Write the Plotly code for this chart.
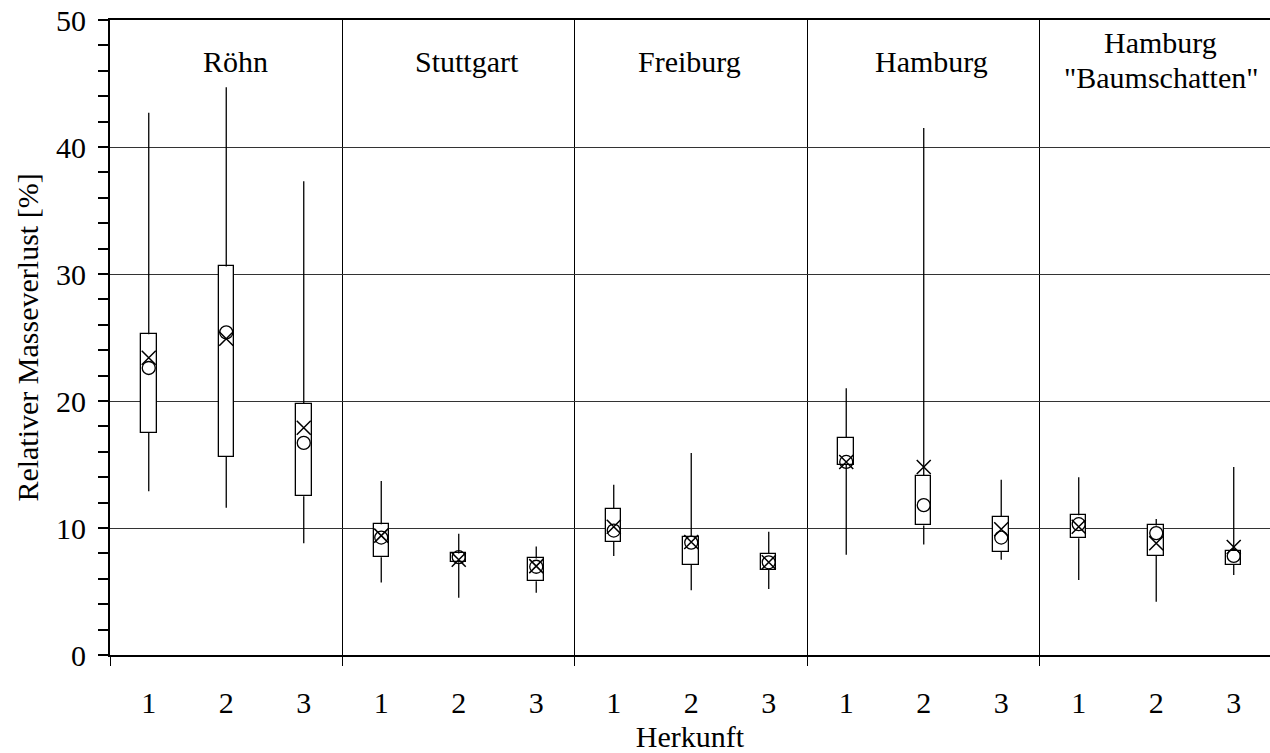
import plotly.graph_objects as go

# Sites (one group of three origins each) and origin labels on the x axis
standorte = ["Röhn", "Stuttgart", "Freiburg", "Hamburg", "Hamburg<br>\"Baumschatten\""]
herkunft = ["1", "2", "3"] * 5

# Relative mass loss [%] per site/origin
minimum = [12.9, 11.6, 8.8, 5.7, 4.5, 4.9, 7.8, 5.1, 5.2, 7.9, 8.7, 7.5, 5.9, 4.2, 6.3]
q1 = [17.5, 15.6, 12.5, 7.7, 7.3, 5.8, 8.9, 7.1, 6.7, 15.0, 10.2, 8.15, 9.2, 7.8, 7.1]
q3 = [25.25, 30.6, 19.8, 10.3, 8.0, 7.6, 11.5, 9.3, 7.95, 17.1, 14.1, 10.9, 11.0, 10.2, 8.2]
maximum = [42.7, 44.7, 37.3, 13.7, 9.55, 8.55, 13.4, 15.9, 9.7, 21.0, 41.5, 13.8, 14.0, 10.7, 14.8]
median = [22.6, 25.4, 16.7, 9.25, 7.7, 6.95, 9.8, 8.85, 7.3, 15.2, 11.8, 9.25, 10.3, 9.6, 7.8]
mittelwert = [23.4, 24.9, 17.9, 9.4, 7.5, 7.0, 10.1, 8.9, 7.3, 15.2, 14.8, 9.9, 10.1, 8.8, 8.5]

pos = list(range(len(herkunft)))
FONT = "Times New Roman, Liberation Serif, serif"
FS = 30

# whiskers: box top -> maximum and minimum -> box bottom
wx, wy = [], []
for i in pos:
    wx += [i, i, None, i, i, None]
    wy += [q3[i], maximum[i], None, minimum[i], q1[i], None]

fig = go.Figure()
fig.add_trace(go.Scatter(x=wx, y=wy, mode="lines",
                         line=dict(color="black", width=1.3),
                         hoverinfo="skip", showlegend=False))
fig.add_trace(go.Bar(x=pos, y=[b - a for a, b in zip(q1, q3)], base=q1,
                     width=0.2, marker=dict(color="white",
                                            line=dict(color="black", width=1.3)),
                     showlegend=False))
fig.add_trace(go.Scatter(x=pos, y=median, mode="markers",
                         marker=dict(symbol="circle-open", size=13,
                                     color="black", line=dict(width=1.3)),
                         showlegend=False))
fig.add_trace(go.Scatter(x=pos, y=mittelwert, mode="markers",
                         marker=dict(symbol="x-thin-open", size=14,
                                     color="black", line=dict(width=1.5)),
                         showlegend=False))

# site names inside each group (one annotation per text line)
label_x = [1.113, 4.106, 6.98, 10.106, 13.06]
label_y = [46.7, 46.7, 46.7, 46.7, 48.2]
line_step = 2.75
for name, lx, ly in zip(standorte, label_x, label_y):
    for k, part in enumerate(name.split("<br>")):
        fig.add_annotation(x=lx, y=ly - k * line_step, text=part, showarrow=False,
                           font=dict(family=FONT, size=FS, color="black"))

fig.update_layout(
    width=1270, height=753,
    margin=dict(l=110, r=0, t=20, b=98),
    plot_bgcolor="white", paper_bgcolor="white",
    font=dict(family=FONT, color="black"),
    bargap=0,
    xaxis=dict(
        range=[-0.5, 14.468], tickmode="array", tickvals=pos, ticktext=herkunft,
        ticks="", showgrid=False, zeroline=False,
        showline=True, linecolor="black", linewidth=2, mirror=True,
        tickfont=dict(family=FONT, size=FS), ticklabelstandoff=20,
        title=dict(text="Herkunft", font=dict(family=FONT, size=FS), standoff=10),
        minor=dict(tick0=-0.5, dtick=3, ticks="outside", ticklen=9,
                   tickcolor="black", tickwidth=1,
                   showgrid=True, gridcolor="black", gridwidth=1),
    ),
    yaxis=dict(
        range=[0, 50], tickmode="linear", tick0=0, dtick=10,
        ticks="outside", ticklen=10, tickcolor="black", tickwidth=1.5,
        showgrid=True, gridcolor="#333333", gridwidth=1, zeroline=False,
        showline=True, linecolor="black", linewidth=2,
        tickfont=dict(family=FONT, size=FS), ticklabelstandoff=6,
        title=dict(text="Relativer Masseverlust [%]", font=dict(family=FONT, size=FS),
                   standoff=9),
        minor=dict(dtick=2, ticks="outside", ticklen=10, tickcolor="black",
                   tickwidth=1.5, showgrid=False),
    ),
)

fig.write_html("out.html")
